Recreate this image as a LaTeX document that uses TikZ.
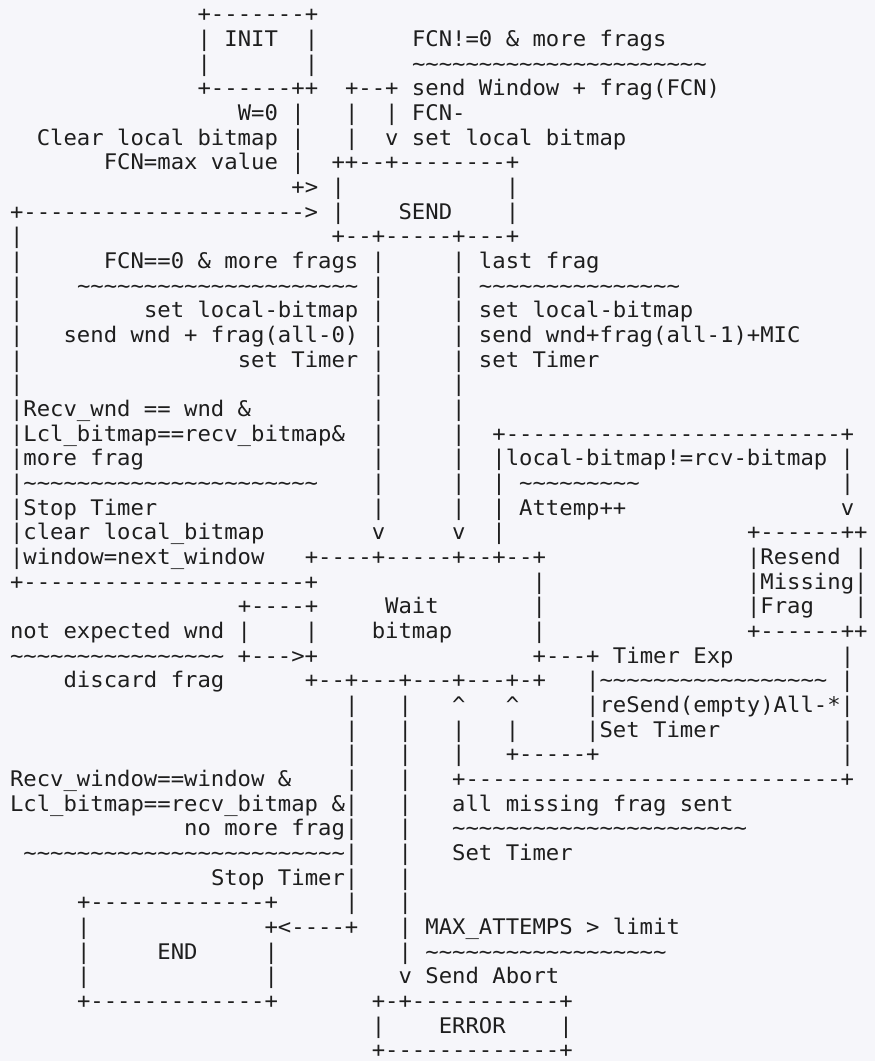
\documentclass[tikz,border=0pt]{standalone}
\usepackage{fontspec}
\setmonofont[FakeStretch=1.035]{DejaVu Sans Mono}
\usetikzlibrary{calc}
\definecolor{bgc}{RGB}{246,246,250}
\definecolor{textc}{RGB}{30,30,30}
\newcount\tcnt
\newcommand\TT[1]{\tcnt=#1\relax\loop\ifnum\tcnt>0 \char`\~\advance\tcnt-1\relax\repeat}
\newcommand\R[3]{\node[txt] (r#1c#2) at ({10pt+#2*13.4pt},{-(21.8pt+(#1-1)*24.67pt)}) {#3};}
\tikzset{txt/.style={anchor=base west, inner sep=0pt, outer sep=0pt,
  font=\ttfamily\fontsize{21.5}{24}\selectfont, text=textc}}
\frenchspacing
\begin{document}
\begin{tikzpicture}
\fill[bgc] (0,0) rectangle (875pt,-1061pt);
\useasboundingbox (0,0) rectangle (875pt,-1061pt);
\R{1}{14}{+-------+}
\R{2}{14}{|~INIT~~|} \R{2}{30}{FCN!=0 \& more frags}
\R{3}{14}{|} \R{3}{22}{|} \R{3}{30}{\TT{22}}
\R{4}{14}{+------++} \R{4}{25}{+--+ send Window + frag(FCN)}
\R{5}{17}{W=0 |} \R{5}{25}{|~~| FCN-}
\R{6}{2}{Clear local bitmap |} \R{6}{25}{|~~v set local bitmap}
\R{7}{7}{FCN=max value |} \R{7}{24}{++--+--------+}
\R{8}{21}{+> |} \R{8}{37}{|}
\R{9}{0}{+--------------------->} \R{9}{24}{|} \R{9}{29}{SEND} \R{9}{37}{|}
\R{10}{0}{|} \R{10}{24}{+--+-----+---+}
\R{11}{0}{|} \R{11}{7}{FCN==0 \& more frags |} \R{11}{33}{| last frag}
\R{12}{0}{|} \R{12}{5}{\TT{21} |} \R{12}{33}{| \TT{15}}
\R{13}{0}{|} \R{13}{10}{set local-bitmap |} \R{13}{33}{| set local-bitmap}
\R{14}{0}{|} \R{14}{4}{send wnd + frag(all-0) |} \R{14}{33}{| send wnd+frag(all-1)+MIC}
\R{15}{0}{|} \R{15}{17}{set Timer |} \R{15}{33}{| set Timer}
\R{16}{0}{|} \R{16}{27}{|} \R{16}{33}{|}
\R{17}{0}{|Recv\_wnd == wnd \&} \R{17}{27}{|} \R{17}{33}{|}
\R{18}{0}{|Lcl\_bitmap==recv\_bitmap\&} \R{18}{27}{|} \R{18}{33}{|} \R{18}{36}{+-------------------------+}
\R{19}{0}{|more frag} \R{19}{27}{|} \R{19}{33}{|} \R{19}{36}{|local-bitmap!=rcv-bitmap |}
\R{20}{0}{|\TT{22}} \R{20}{27}{|} \R{20}{33}{|} \R{20}{36}{| \TT{9}} \R{20}{62}{|}
\R{21}{0}{|Stop Timer} \R{21}{27}{|} \R{21}{33}{|} \R{21}{36}{| Attemp++} \R{21}{62}{v}
\R{22}{0}{|clear local\_bitmap} \R{22}{27}{v} \R{22}{33}{v} \R{22}{36}{|} \R{22}{55}{+------++}
\R{23}{0}{|window=next\_window} \R{23}{22}{+----+-----+--+--+} \R{23}{55}{|Resend |}
\R{24}{0}{+---------------------+} \R{24}{39}{|} \R{24}{55}{|Missing|}
\R{25}{17}{+----+} \R{25}{28}{Wait} \R{25}{39}{|} \R{25}{55}{|Frag~~~|}
\R{26}{0}{not expected wnd |} \R{26}{22}{|} \R{26}{27}{bitmap} \R{26}{39}{|} \R{26}{55}{+------++}
\R{27}{0}{\TT{16} +--->+} \R{27}{39}{+---+ Timer Exp} \R{27}{62}{|}
\R{28}{4}{discard frag} \R{28}{22}{+--+---+---+---+-+} \R{28}{43}{|\TT{17} |}
\R{29}{25}{|} \R{29}{29}{|} \R{29}{33}{\textasciicircum} \R{29}{37}{\textasciicircum} \R{29}{43}{|reSend(empty)All-*|}
\R{30}{25}{|} \R{30}{29}{|} \R{30}{33}{|} \R{30}{37}{|} \R{30}{43}{|Set Timer} \R{30}{62}{|}
\R{31}{25}{|} \R{31}{29}{|} \R{31}{33}{|} \R{31}{37}{+-----+} \R{31}{62}{|}
\R{32}{0}{Recv\_window==window \&} \R{32}{25}{|} \R{32}{29}{|} \R{32}{33}{+----------------------------+}
\R{33}{0}{Lcl\_bitmap==recv\_bitmap \&|} \R{33}{29}{|} \R{33}{33}{all missing frag sent}
\R{34}{13}{no more frag|} \R{34}{29}{|} \R{34}{33}{\TT{22}}
\R{35}{1}{\TT{24}|} \R{35}{29}{|} \R{35}{33}{Set Timer}
\R{36}{15}{Stop Timer|} \R{36}{29}{|}
\R{37}{5}{+-------------+} \R{37}{25}{|} \R{37}{29}{|}
\R{38}{5}{|} \R{38}{19}{+<----+} \R{38}{29}{| MAX\_ATTEMPS > limit}
\R{39}{5}{|} \R{39}{11}{END} \R{39}{19}{|} \R{39}{29}{| \TT{18}}
\R{40}{5}{|} \R{40}{19}{|} \R{40}{29}{v Send Abort}
\R{41}{5}{+-------------+} \R{41}{27}{+-+-----------+}
\R{42}{27}{|} \R{42}{32}{ERROR} \R{42}{41}{|}
\R{43}{27}{+-------------+}
\end{tikzpicture}
\end{document}
